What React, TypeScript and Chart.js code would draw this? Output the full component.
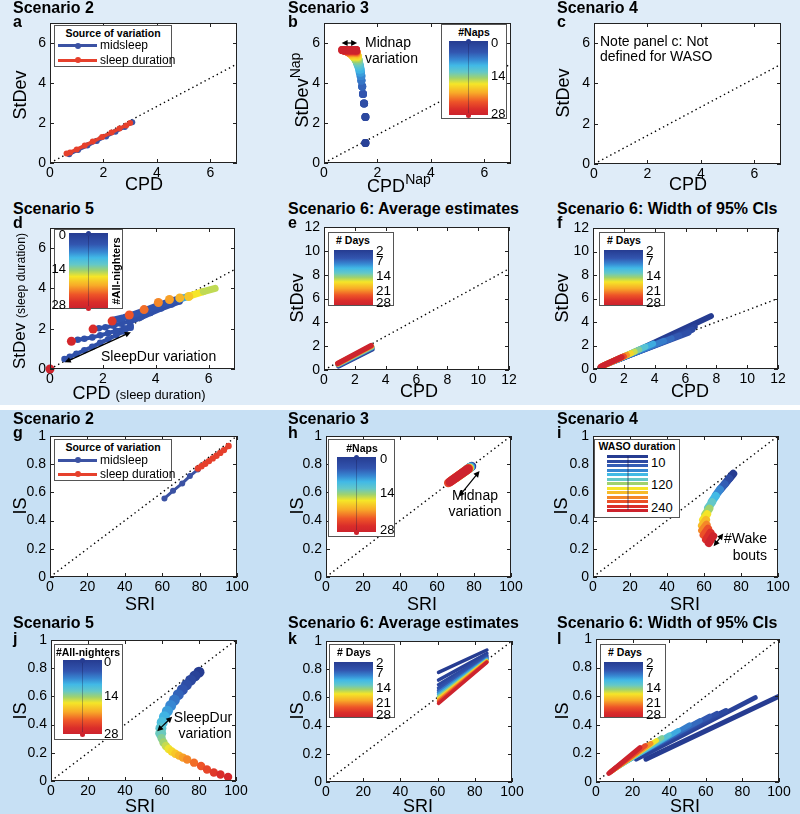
import React, { useEffect, useRef } from "react";
import { Chart, registerables } from "chart.js";

Chart.register(...registerables);

const FONT = '"Liberation Sans", Arial, Helvetica, sans-serif';
const TICK_SIZE = 14;
const BG_TOP = "#dfecf8";
const BG_BOTTOM = "#c7e0f4";
const BLUE = "#3b52a3";
const RED = "#e6402c";

type XY = [number, number];

// ---------------- tick labels ----------------
const TICKS_CPD7 = [0, 2, 4, 6];
const TICKS_CPD12 = [0, 2, 4, 6, 8, 10, 12];
const TICKS_SRI = [0, 20, 40, 60, 80, 100];
const TICKS_IS = [0, 0.2, 0.4, 0.6, 0.8, 1];

// ---------------- dotted reference lines ----------------
const DIAG_CPD7: XY[] = [[0, 0], [7, 4.95]];
const DIAG_CPD12: XY[] = [[0, 0], [12, 8.49]];
const DIAG_CI12: XY[] = [[0, 0], [12, 6]];
const DIAG_SRI: XY[] = [[0, 0], [100, 1]];

// ---------------- panel a: Scenario 2 (StDev vs CPD) ----------------
const A_MIDSLEEP: XY[] = [[0.72, 0.44], [1.05, 0.65], [1.4, 0.87], [1.75, 1.1], [2.1, 1.33], [2.45, 1.56], [2.8, 1.8], [3.08, 2.04]];
const A_SLEEPDUR: XY[] = [[0.62, 0.48], [0.75, 0.53], [1.0, 0.68], [1.3, 0.87], [1.6, 1.07], [1.95, 1.3], [2.3, 1.52], [2.6, 1.73], [2.85, 1.88], [3.0, 2.0]];

// ---------------- panel b: Scenario 3 (naps) ----------------
const B_NAPS = [1, 2, 3, 4, 5, 6, 7, 8, 9, 10, 11, 12, 13, 14, 15, 16, 17, 18, 19, 20, 21, 22, 23, 24, 25, 26, 27, 28];
const B_STDEV = [1.0, 2.3, 2.98, 3.45, 3.83, 4.12, 4.35, 4.53, 4.68, 4.82, 4.93, 5.03, 5.12, 5.2, 5.27, 5.33, 5.38, 5.43, 5.47, 5.5, 5.53, 5.56, 5.58, 5.6, 5.62, 5.63, 5.64, 5.65];
const B_CPD_MIN = [1.55, 1.55, 1.5, 1.46, 1.43, 1.4, 1.37, 1.34, 1.32, 1.29, 1.26, 1.23, 1.2, 1.17, 1.14, 1.1, 1.07, 1.03, 1.0, 0.96, 0.93, 0.89, 0.86, 0.82, 0.78, 0.75, 0.71, 0.68];
const B_CPD_MAX = [1.55, 1.55, 1.5, 1.46, 1.43, 1.4, 1.4, 1.38, 1.37, 1.35, 1.33, 1.31, 1.3, 1.28, 1.27, 1.26, 1.25, 1.24, 1.23, 1.22, 1.21, 1.21, 1.2, 1.2, 1.2, 1.2, 1.2, 1.2];

// ---------------- panel d: Scenario 5 (all-nighters, StDev vs CPD) ----------------
const D_BLUE_1: XY[] = [[0.55, 0.5], [0.75, 0.6], [1.0, 0.75], [1.3, 0.93], [1.6, 1.1], [1.9, 1.3], [2.2, 1.48], [2.5, 1.68], [2.8, 1.86], [3.05, 2.05]];
const D_BLUE_2: XY[] = [[1.05, 1.45], [1.3, 1.5], [1.6, 1.57], [1.9, 1.67], [2.2, 1.78], [2.5, 1.9], [2.8, 2.02], [3.05, 2.15]];
const D_BLUE_3: XY[] = [[1.85, 2.02], [2.1, 2.07], [2.4, 2.15], [2.7, 2.25], [3.0, 2.35]];
const D_RIDGE_LOW: XY[] = [[3.0, 2.35], [3.4, 2.55], [3.8, 2.78], [4.2, 3.0], [4.6, 3.2], [4.9, 3.35]];
const D_RIDGE: XY[] = [[2.4, 2.42], [2.8, 2.55], [3.2, 2.72], [3.6, 2.9], [4.0, 3.1], [4.4, 3.28], [4.8, 3.45], [5.0, 3.52]];
const D_RIDGE_CYAN: XY[] = [[4.9, 3.48], [5.3, 3.62]];
const D_RIDGE_YELLOW: XY[] = [[5.35, 3.66], [5.8, 3.84]];
const D_RIDGE_TIP: XY[] = [[5.8, 3.84], [6.25, 4.0]];
const D_NIGHTERS = [28, 27, 26, 25, 23, 22, 21, 20, 19, 18];
const D_NIGHTER_PTS: XY[] = [[0, 0], [0.81, 1.38], [1.63, 1.98], [2.35, 2.38], [3.0, 2.68], [3.56, 2.95], [4.1, 3.3], [4.52, 3.45], [4.91, 3.53], [5.25, 3.6]];

// ---------------- panel e: Scenario 6 averages (StDev vs CPD) ----------------
const E_DAYS = [2, 7, 14, 21, 28];
const E_CPD_START = [0.95, 0.93, 0.92, 0.9, 0.9];
const E_STDEV_START = [0.35, 0.42, 0.48, 0.52, 0.56];
const E_CPD_END = [3.1, 3.1, 3.1, 3.08, 3.05];
const E_STDEV_END = [1.75, 1.85, 1.93, 2.0, 2.05];

// ---------------- panel f: Scenario 6 CI widths (StDev vs CPD) ----------------
const F_DAYS = [2, 3, 4, 5, 6, 7, 8, 10, 12, 14, 16, 18, 21, 24, 28];
const F_CPD_START = [2.2, 1.9, 1.6, 1.4, 1.25, 1.15, 1.05, 0.95, 0.85, 0.8, 0.75, 0.7, 0.65, 0.6, 0.5];
const F_STDEV_START = [1.15, 0.95, 0.8, 0.7, 0.62, 0.56, 0.5, 0.45, 0.4, 0.36, 0.33, 0.3, 0.28, 0.25, 0.2];
const F_CPD_END = [7.65, 6.6, 6.45, 6.2, 5.6, 5.1, 4.6, 3.9, 3.4, 3.0, 2.7, 2.45, 2.2, 2.0, 1.85];
const F_STDEV_END = [4.5, 3.6, 3.35, 3.1, 2.85, 2.6, 2.4, 2.15, 1.9, 1.65, 1.47, 1.33, 1.2, 1.08, 1.0];

// ---------------- panel g: Scenario 2 (IS vs SRI) ----------------
const G_MIDSLEEP: XY[] = [[61.2, 0.557], [65.8, 0.611], [70.7, 0.664], [74.8, 0.716], [79.0, 0.762]];
const G_SLEEPDUR: XY[] = [[79.1, 0.77], [81, 0.785], [83, 0.803], [85, 0.822], [87, 0.841], [89, 0.86], [91, 0.88], [93, 0.9], [95.5, 0.929]];

// ---------------- panel h: Scenario 3 (IS vs SRI) ----------------
const H_NAPS = [0, 4, 8, 12, 16, 20, 24, 28];
const H_SRI_START = [77.5, 76.5, 75, 73, 70.5, 68, 66.2, 67];
const H_IS_START = [0.775, 0.765, 0.75, 0.73, 0.705, 0.685, 0.668, 0.675];
const H_SRI_END = [78.8, 78.5, 78.2, 77.8, 77.5, 77.2, 77, 76.8];
const H_IS_END = [0.785, 0.782, 0.78, 0.776, 0.772, 0.77, 0.768, 0.766];

// ---------------- panel i: Scenario 4 (WASO) ----------------
const I_WASO = [10, 20, 40, 60, 80, 100, 120, 140, 160, 180, 200, 220, 240];
const I_SRI_FEW = [73.8, 71.4, 68.9, 66.4, 64.2, 62.2, 60.7, 59.5, 58.9, 59.0, 59.8, 61.1, 62.6];
const I_IS_FEW = [0.7, 0.662, 0.622, 0.58, 0.535, 0.49, 0.445, 0.405, 0.365, 0.33, 0.298, 0.265, 0.24];
const I_SRI_MANY = [75.8, 73.6, 71.1, 68.6, 66.4, 64.4, 62.9, 61.7, 61.1, 61.4, 62.2, 63.5, 65.0];
const I_IS_MANY = [0.732, 0.698, 0.658, 0.62, 0.575, 0.53, 0.485, 0.445, 0.405, 0.37, 0.342, 0.315, 0.29];

// ---------------- panel j: Scenario 5 (IS vs SRI) ----------------
const J_ALLNIGHTERS = [0, 1, 2, 3, 4, 5, 6, 7, 8, 9, 10, 11, 12, 13, 14, 15, 16, 17, 18, 19, 20, 21, 22, 23, 24, 25, 26, 27];
const J_SRI = [80, 77.8, 75.5, 73.2, 71, 68.8, 66.7, 64.7, 62.9, 61.3, 60.1, 59.4, 59.3, 59.8, 60.8, 62.1, 63.6, 65.3, 67.2, 69.2, 71.3, 73.6, 77.3, 81.1, 84.3, 88, 91.6, 95.7];
const J_IS = [0.772, 0.745, 0.715, 0.682, 0.648, 0.612, 0.574, 0.535, 0.495, 0.455, 0.415, 0.375, 0.338, 0.303, 0.273, 0.248, 0.227, 0.209, 0.193, 0.18, 0.166, 0.152, 0.13, 0.106, 0.082, 0.06, 0.046, 0.028];

// ---------------- panel k: Scenario 6 averages (IS vs SRI) ----------------
const K_DAYS = [2, 3, 4, 5, 6, 8, 10, 14, 18, 21, 24, 28];
const K_SRI_START = 60.5;
const K_SRI_END = 86.5;
const K_IS_START = [0.777, 0.723, 0.69, 0.667, 0.65, 0.635, 0.622, 0.607, 0.593, 0.58, 0.568, 0.557];
const K_IS_END = [0.936, 0.912, 0.898, 0.888, 0.881, 0.875, 0.87, 0.865, 0.86, 0.856, 0.852, 0.848];

// ---------------- panel l: Scenario 6 CI widths (IS vs SRI) ----------------
const L_DAYS = [2, 3, 4, 5, 6, 7, 8, 10, 12, 14, 17, 21, 24, 28];
const L_SRI_START = [27.3, 22, 20, 17, 15, 14, 13, 11, 10, 9.5, 9, 8.5, 8, 7];
const L_IS_START = [0.16, 0.16, 0.17, 0.15, 0.14, 0.13, 0.12, 0.1, 0.09, 0.085, 0.08, 0.075, 0.07, 0.06];
const L_SRI_END = [100, 87, 71, 66, 62, 57, 51, 45, 40, 36, 33, 30, 27, 24];
const L_IS_END = [0.6, 0.59, 0.5, 0.48, 0.46, 0.43, 0.4, 0.36, 0.33, 0.31, 0.29, 0.27, 0.255, 0.24];

// ---------------- colour map (jet-like) ----------------
const CMAP_STOPS: [number, number, number, number][] = [
  [0.0, 38, 60, 145], [0.15, 50, 85, 175], [0.25, 55, 135, 210], [0.33, 65, 185, 230],
  [0.42, 100, 200, 200], [0.5, 160, 210, 110], [0.58, 245, 230, 40], [0.7, 248, 170, 40],
  [0.82, 238, 85, 40], [0.92, 218, 45, 42], [1.0, 205, 35, 45],
];
function cmap(t: number): string {
  const u = Math.max(0, Math.min(1, t));
  for (let i = 1; i < CMAP_STOPS.length; i++) {
    const a = CMAP_STOPS[i - 1];
    const b = CMAP_STOPS[i];
    if (u <= b[0]) {
      const f = (u - a[0]) / (b[0] - a[0]);
      const c = [1, 2, 3].map((k) => Math.round(a[k] + (b[k] - a[k]) * f));
      return `rgb(${c[0]},${c[1]},${c[2]})`;
    }
  }
  return "rgb(205,35,45)";
}
const CMAP_CSS = `linear-gradient(to bottom, ${CMAP_STOPS.map((s) => `rgb(${s[1]},${s[2]},${s[3]}) ${s[0] * 100}%`).join(", ")})`;

// ---------------- dataset helpers ----------------
const pts = (a: XY[]) => a.map(([x, y]) => ({ x, y }));
function line(data: XY[], color: string, width: number, pointRadius = 0, extra: any = {}) {
  return {
    data: pts(data), showLine: true, borderColor: color, backgroundColor: color, borderWidth: width,
    pointRadius, pointHoverRadius: 0, pointBorderWidth: 0, pointBackgroundColor: color,
    borderCapStyle: "round", borderJoinStyle: "round", ...extra,
  };
}
function dotted(data: XY[]) {
  return { data: pts(data), showLine: true, borderColor: "#000", borderWidth: 1.4, borderDash: [1.4, 3.2], pointRadius: 0, pointHoverRadius: 0 };
}
function dots(data: XY[], colors: string[], radius: any, extra: any = {}) {
  return { data: pts(data), showLine: false, pointRadius: radius, pointHoverRadius: 0, pointBackgroundColor: colors, pointBorderWidth: 0, ...extra };
}

const dayT = (d: number) => (d - 2) / 26;

const PANELS: any[] = [
  { key: "a", x: 50, y: 23, w: 187, h: 140, xMax: 7, yMax: 7, xTicks: TICKS_CPD7, yTicks: TICKS_CPD7, arrows: [],
    datasets: [dotted(DIAG_CPD7), line(A_MIDSLEEP, BLUE, 3.5, 3), line(A_SLEEPDUR, RED, 3.5, 3)] },
  { key: "b", x: 324, y: 23, w: 187, h: 140, xMax: 7, yMax: 7, xTicks: TICKS_CPD7, yTicks: TICKS_CPD7,
    arrows: [[0.66, 6.0, 1.24, 6.0]],
    datasets: [dotted(DIAG_CPD7), ...B_NAPS.map((n, i) => line([[B_CPD_MIN[i], B_STDEV[i]], [B_CPD_MAX[i], B_STDEV[i]]], cmap(n / 28), 8, 4))] },
  { key: "c", x: 594, y: 23, w: 187, h: 141, xMax: 7, yMax: 7, xTicks: TICKS_CPD7, yTicks: TICKS_CPD7, arrows: [],
    datasets: [dotted(DIAG_CPD7)] },
  { key: "d", x: 50, y: 228, w: 185, h: 141, xMax: 7, yMax: 7, xTicks: TICKS_CPD7, yTicks: TICKS_CPD7,
    arrows: [[0.56, 0.33, 3.06, 1.83]],
    datasets: [
      dotted(DIAG_CPD7),
      line(D_BLUE_1, cmap(0.12), 4, 3.3), line(D_BLUE_2, cmap(0.12), 4, 3.3), line(D_BLUE_3, cmap(0.12), 4, 3.3),
      line(D_RIDGE_LOW, cmap(0.12), 6, 3.3), line(D_RIDGE, cmap(0.14), 7),
      line(D_RIDGE_CYAN, cmap(0.3), 7), line(D_RIDGE_YELLOW, cmap(0.58), 7), line(D_RIDGE_TIP, cmap(0.53), 7),
      dots(D_NIGHTER_PTS, D_NIGHTERS.map((n) => cmap(n / 28)), 4.5, { clip: false }),
    ] },
  { key: "e", x: 324, y: 227, w: 185, h: 143, xMax: 12, yMax: 12, xTicks: TICKS_CPD12, yTicks: TICKS_CPD12, arrows: [],
    datasets: [dotted(DIAG_CPD12), ...E_DAYS.map((d, i) => line([[E_CPD_START[i], E_STDEV_START[i]], [E_CPD_END[i], E_STDEV_END[i]]], cmap(dayT(d)), 5.5))] },
  { key: "f", x: 593, y: 228, w: 185, h: 141, xMax: 12, yMax: 12, xTicks: TICKS_CPD12, yTicks: TICKS_CPD12, arrows: [],
    datasets: [dotted(DIAG_CI12), ...F_DAYS.map((d, i) => line([[F_CPD_START[i], F_STDEV_START[i]], [F_CPD_END[i], F_STDEV_END[i]]], cmap(dayT(d)), 6))] },
  { key: "g", x: 50, y: 436, w: 187, h: 141, xMax: 100, yMax: 1, xTicks: TICKS_SRI, yTicks: TICKS_IS, arrows: [],
    datasets: [dotted(DIAG_SRI), line(G_MIDSLEEP, BLUE, 3, 3), line(G_SLEEPDUR, RED, 4, 3.2)] },
  { key: "h", x: 326, y: 436, w: 185, h: 141, xMax: 100, yMax: 1, xTicks: TICKS_SRI, yTicks: TICKS_IS,
    arrows: [[71.7, 0.569, 83, 0.751]],
    datasets: [dotted(DIAG_SRI), ...H_NAPS.map((n, i) => line([[H_SRI_START[i], H_IS_START[i]], [H_SRI_END[i], H_IS_END[i]]], cmap(n / 28), 9))] },
  { key: "i", x: 593, y: 436, w: 185, h: 141, xMax: 100, yMax: 1, xTicks: TICKS_SRI, yTicks: TICKS_IS,
    arrows: [[65.2, 0.218, 70.4, 0.308]],
    datasets: [dotted(DIAG_SRI), ...I_WASO.map((w, i) => line([[I_SRI_FEW[i], I_IS_FEW[i]], [I_SRI_MANY[i], I_IS_MANY[i]]], cmap(i / (I_WASO.length - 1)), 8))] },
  { key: "j", x: 51, y: 640, w: 185, h: 141, xMax: 100, yMax: 1, xTicks: TICKS_SRI, yTicks: TICKS_IS,
    arrows: [[57.4, 0.353, 65.5, 0.456]],
    datasets: [dotted(DIAG_SRI), dots(J_SRI.map((s, i) => [s, J_IS[i]] as XY), J_ALLNIGHTERS.map((n) => cmap(n / 28)), J_ALLNIGHTERS.map((n) => (n <= 12 ? 5.5 : 4.2)))] },
  { key: "k", x: 326, y: 641, w: 186, h: 141, xMax: 100, yMax: 1, xTicks: TICKS_SRI, yTicks: TICKS_IS, arrows: [],
    datasets: [dotted(DIAG_SRI), ...K_DAYS.map((d, i) => line([[K_SRI_START, K_IS_START[i]], [K_SRI_END, K_IS_END[i]]], cmap(dayT(d)), 3.5))] },
  { key: "l", x: 596, y: 639, w: 183, h: 143, xMax: 100, yMax: 1, xTicks: TICKS_SRI, yTicks: TICKS_IS, arrows: [],
    datasets: [dotted(DIAG_SRI), ...L_DAYS.map((d, i) => line([[L_SRI_START[i], L_IS_START[i]], [L_SRI_END[i], L_IS_END[i]]], cmap(dayT(d)), 5))] },
];

// ---------------- chart construction ----------------
const PADL = 42, PADR = 16, PADT = 10, PADB = 20;

function drawArrow(ctx: CanvasRenderingContext2D, x1: number, y1: number, x2: number, y2: number) {
  const ang = Math.atan2(y2 - y1, x2 - x1);
  const hl = 6, hw = 3;
  const c = Math.cos(ang), s = Math.sin(ang);
  ctx.beginPath();
  ctx.moveTo(x1 + c * hl * 0.8, y1 + s * hl * 0.8);
  ctx.lineTo(x2 - c * hl * 0.8, y2 - s * hl * 0.8);
  ctx.lineWidth = 1.2;
  ctx.strokeStyle = "#000";
  ctx.stroke();
  const head = (px: number, py: number, dx: number, dy: number) => {
    ctx.beginPath();
    ctx.moveTo(px, py);
    ctx.lineTo(px - dx * hl - dy * hw, py - dy * hl + dx * hw);
    ctx.lineTo(px - dx * hl + dy * hw, py - dy * hl - dx * hw);
    ctx.closePath();
    ctx.fillStyle = "#000";
    ctx.fill();
  };
  head(x2, y2, c, s);
  head(x1, y1, -c, -s);
}

function makeConfig(p: any): any {
  const framePlugin = {
    id: "frame_" + p.key,
    beforeDatasetsDraw(chart: any) {
      const { ctx, chartArea: ca } = chart;
      ctx.save();
      ctx.fillStyle = "#fff";
      ctx.fillRect(ca.left, ca.top, ca.right - ca.left, ca.bottom - ca.top);
      ctx.restore();
    },
    afterDatasetsDraw(chart: any) {
      const { ctx, chartArea: ca, scales } = chart;
      const xs = scales.x, ys = scales.y;
      ctx.save();
      ctx.strokeStyle = "#222";
      ctx.lineWidth = 1;
      ctx.strokeRect(ca.left + 0.5, ca.top + 0.5, ca.right - ca.left - 1, ca.bottom - ca.top - 1);
      ctx.beginPath();
      for (const v of p.xTicks) {
        const px = Math.round(xs.getPixelForValue(v)) + 0.5;
        ctx.moveTo(px, ca.bottom); ctx.lineTo(px, ca.bottom - 4);
        ctx.moveTo(px, ca.top); ctx.lineTo(px, ca.top + 4);
      }
      for (const v of p.yTicks) {
        const py = Math.round(ys.getPixelForValue(v)) + 0.5;
        ctx.moveTo(ca.left, py); ctx.lineTo(ca.left + 4, py);
        ctx.moveTo(ca.right, py); ctx.lineTo(ca.right - 4, py);
      }
      ctx.stroke();
      for (const a of p.arrows) {
        drawArrow(ctx, xs.getPixelForValue(a[0]), ys.getPixelForValue(a[1]), xs.getPixelForValue(a[2]), ys.getPixelForValue(a[3]));
      }
      ctx.restore();
    },
  };
  const tickFont = { family: FONT, size: TICK_SIZE };
  return {
    type: "scatter",
    data: { datasets: p.datasets.map((d: any, i: number) => ({ ...d, order: -i })) },
    options: {
      animation: false,
      responsive: false,
      devicePixelRatio: 1,
      events: [],
      layout: { padding: { left: 0, right: PADR, top: PADT, bottom: 0 } },
      plugins: { legend: { display: false }, tooltip: { enabled: false }, title: { display: false } },
      elements: { line: { tension: 0 } },
      scales: {
        x: {
          type: "linear", position: "bottom", min: 0, max: p.xMax,
          grid: { display: false, drawTicks: false }, border: { display: false },
          ticks: { color: "#000", font: tickFont, padding: 2, maxRotation: 0, autoSkip: false, callback: (v: any) => String(v) },
          afterBuildTicks: (s: any) => { s.ticks = p.xTicks.map((v: number) => ({ value: v })); },
          afterFit: (s: any) => { s.height = PADB; s.paddingLeft = 0; s.paddingRight = 0; },
        },
        y: {
          type: "linear", position: "left", min: 0, max: p.yMax,
          grid: { display: false, drawTicks: false }, border: { display: false },
          ticks: { color: "#000", font: tickFont, padding: 4, autoSkip: false, callback: (v: any) => String(v) },
          afterBuildTicks: (s: any) => { s.ticks = p.yTicks.map((v: number) => ({ value: v })); },
          afterFit: (s: any) => { s.width = PADL; s.paddingTop = 0; s.paddingBottom = 0; },
        },
      },
    },
    plugins: [framePlugin],
  };
}

function ChartPanel({ spec }: { spec: any }) {
  const ref = useRef<HTMLCanvasElement>(null);
  useEffect(() => {
    const chart = new Chart(ref.current as HTMLCanvasElement, makeConfig(spec));
    return () => chart.destroy();
  }, [spec]);
  const W = spec.w + PADL + PADR;
  const H = spec.h + PADT + PADB;
  return (
    <canvas ref={ref} width={W} height={H}
      style={{ position: "absolute", left: spec.x - PADL, top: spec.y - PADT, width: W, height: H }} />
  );
}

// ---------------- text helpers ----------------
function Txt({ x, b, size = 14, bold = false, align = "left", children }: any) {
  const tx = align === "center" ? "translateX(-50%)" : align === "right" ? "translateX(-100%)" : undefined;
  return (
    <div style={{ position: "absolute", left: x, top: b - size * 0.847, fontSize: size, lineHeight: `${size}px`,
      fontWeight: bold ? "bold" : "normal", whiteSpace: "nowrap", transform: tx }}>{children}</div>
  );
}
function CTxt({ x, y, size = 18, rotate = false, bold = false, children }: any) {
  return (
    <div style={{ position: "absolute", left: x, top: y, fontSize: size, lineHeight: `${size}px`, whiteSpace: "nowrap",
      fontWeight: bold ? "bold" : "normal",
      transform: `translate(-50%, -50%)${rotate ? " rotate(-90deg)" : ""}` }}>{children}</div>
  );
}
const Sup = ({ children }: any) => (
  <span style={{ fontSize: "0.78em", position: "relative", top: "-0.55em" }}>{children}</span>
);
const Small = ({ children }: any) => <span style={{ fontSize: "0.72em" }}>{children}</span>;

function LegendBox({ x, y, w, h, children }: any) {
  return (
    <div style={{ position: "absolute", left: x, top: y, width: w, height: h, background: "#fff",
      border: "1px solid #555", boxSizing: "border-box" }}>{children}</div>
  );
}
function Bar({ x, y, w, h, marker = true }: any) {
  return (
    <>
      <div style={{ position: "absolute", left: x, top: y, width: w, height: h, background: CMAP_CSS }} />
      {marker && (
        <>
          <div style={{ position: "absolute", left: x + w / 2 - 0.75, top: y, width: 1.5, height: h, background: "rgba(20,20,70,0.3)" }} />
          <div style={{ position: "absolute", left: x + w / 2 - 2.5, top: y - 2.5, width: 5, height: 5, borderRadius: 3, background: cmap(0) }} />
          <div style={{ position: "absolute", left: x + w / 2 - 2.5, top: y + h - 2.5, width: 5, height: 5, borderRadius: 3, background: cmap(1) }} />
        </>
      )}
    </>
  );
}
function LineSample({ x1, x2, y, color }: any) {
  return (
    <>
      <div style={{ position: "absolute", left: x1, top: y - 1.5, width: x2 - x1, height: 3, background: color }} />
      <div style={{ position: "absolute", left: (x1 + x2) / 2 - 3, top: y - 3, width: 6, height: 6, borderRadius: 3, background: color }} />
    </>
  );
}

const TITLES: [string, number, number][] = [
  ["Scenario 2", 13, 14], ["Scenario 3", 288, 14], ["Scenario 4", 557, 14],
  ["Scenario 5", 13, 215], ["Scenario 6: Average estimates", 288, 215], ["Scenario 6: Width of 95% CIs", 557, 215],
  ["Scenario 2", 13, 425], ["Scenario 3", 288, 425], ["Scenario 4", 557, 425],
  ["Scenario 5", 13, 629], ["Scenario 6: Average estimates", 288, 629], ["Scenario 6: Width of 95% CIs", 557, 629],
];
const LETTERS: [string, number, number][] = [
  ["a", 13, 28], ["b", 288, 28], ["c", 557, 28],
  ["d", 13, 229], ["e", 288, 229], ["f", 557, 229],
  ["g", 13, 439], ["h", 288, 439], ["i", 557, 439],
  ["j", 13, 645], ["k", 288, 645], ["l", 557, 645],
];

function DaysLegend({ x, y, barX }: any) {
  const base = [y + 23, y + 33, y + 48, y + 63, y + 75];
  const labels = ["2", "7", "14", "21", "28"];
  return (
    <>
      <LegendBox x={x} y={y} w={66} h={74} />
      <Txt x={x + 25} b={y + 12} size={10.5} bold align="center"># Days</Txt>
      <Bar x={barX} y={y + 18} w={39} h={55} marker={false} />
      {labels.map((l, i) => <Txt key={l} x={barX + 42} b={base[i]} size={13.5}>{l}</Txt>)}
    </>
  );
}

export default function App() {
  return (
    <div style={{ position: "absolute", left: 0, top: 0, width: 800, height: 814, overflow: "hidden", fontFamily: FONT, color: "#000" }}>
      <div style={{ position: "absolute", left: 0, top: 0, width: 800, height: 405, background: BG_TOP }} />
      <div style={{ position: "absolute", left: 0, top: 405, width: 800, height: 5, background: "#fff" }} />
      <div style={{ position: "absolute", left: 0, top: 410, width: 800, height: 404, background: BG_BOTTOM }} />

      {PANELS.map((p) => <ChartPanel key={p.key} spec={p} />)}

      {TITLES.map(([t, x, b], i) => <Txt key={"t" + i} x={x} b={b} size={16} bold>{t}</Txt>)}
      {LETTERS.map(([t, x, b]) => <Txt key={"l" + t} x={x} b={b} size={16} bold>{t}</Txt>)}

      {/* axis titles */}
      <CTxt x={144} y={184}>CPD</CTxt>
      <CTxt x={399} y={186}>CPD<Sup>Nap</Sup></CTxt>
      <CTxt x={688} y={184}>CPD</CTxt>
      <CTxt x={139} y={394}>CPD <Small>(sleep duration)</Small></CTxt>
      <CTxt x={419} y={391}>CPD</CTxt>
      <CTxt x={690} y={391}>CPD</CTxt>
      <CTxt x={140} y={604}>SRI</CTxt>
      <CTxt x={422} y={604}>SRI</CTxt>
      <CTxt x={685} y={604}>SRI</CTxt>
      <CTxt x={140} y={806}>SRI</CTxt>
      <CTxt x={418} y={806}>SRI</CTxt>
      <CTxt x={685} y={806}>SRI</CTxt>

      <CTxt x={20} y={95} rotate>StDev</CTxt>
      <CTxt x={302} y={90} rotate>StDev<Sup>Nap</Sup></CTxt>
      <CTxt x={563} y={93} rotate>StDev</CTxt>
      <CTxt x={20} y={301} size={17} rotate>StDev <Small>(sleep duration)</Small></CTxt>
      <CTxt x={297} y={298} rotate>StDev</CTxt>
      <CTxt x={562} y={298} rotate>StDev</CTxt>
      <CTxt x={20} y={506} rotate>IS</CTxt>
      <CTxt x={297} y={506} rotate>IS</CTxt>
      <CTxt x={561} y={506} rotate>IS</CTxt>
      <CTxt x={20} y={711} rotate>IS</CTxt>
      <CTxt x={297} y={711} rotate>IS</CTxt>
      <CTxt x={562} y={711} rotate>IS</CTxt>

      {/* annotations */}
      <Txt x={365} b={47} size={14}>Midnap</Txt>
      <Txt x={365} b={63} size={14}>variation</Txt>
      <Txt x={600} b={46} size={14}>Note panel c: Not</Txt>
      <Txt x={600} b={61} size={14}>defined for WASO</Txt>
      <Txt x={101} b={361} size={14}>SleepDur variation</Txt>
      <Txt x={475} b={500} size={14} align="center">Midnap</Txt>
      <Txt x={475} b={516} size={14} align="center">variation</Txt>
      <Txt x={767} b={543} size={14} align="right">#Wake</Txt>
      <Txt x={767} b={560} size={14} align="right">bouts</Txt>
      <Txt x={203} b={722} size={14} align="center">SleepDur</Txt>
      <Txt x={205} b={738} size={14} align="center">variation</Txt>

      {/* legend a */}
      <LegendBox x={54} y={25} w={118} h={42} />
      <Txt x={113} b={37} size={10.5} bold align="center">Source of variation</Txt>
      <LineSample x1={58} x2={97} y={45.5} color={BLUE} />
      <Txt x={100} b={49} size={12}>midsleep</Txt>
      <LineSample x1={58} x2={97} y={60} color={RED} />
      <Txt x={100} b={64} size={12}>sleep duration</Txt>

      {/* legend g */}
      <LegendBox x={54} y={439} w={118} h={42} />
      <Txt x={113} b={451} size={10.5} bold align="center">Source of variation</Txt>
      <LineSample x1={58} x2={97} y={460} color={BLUE} />
      <Txt x={100} b={464} size={12}>midsleep</Txt>
      <LineSample x1={58} x2={97} y={474} color={RED} />
      <Txt x={100} b={478} size={12}>sleep duration</Txt>

      {/* legend b */}
      <LegendBox x={441} y={24} w={66} h={95} />
      <Txt x={474} b={36} size={10.5} bold align="center">#Naps</Txt>
      <Bar x={449} y={41} w={39} h={74} />
      <Txt x={491} b={47} size={13}>0</Txt>
      <Txt x={491} b={80} size={13}>14</Txt>
      <Txt x={491} b={118} size={13}>28</Txt>

      {/* legend d */}
      <LegendBox x={54} y={229} w={69} h={80} />
      <Bar x={69} y={233} w={39} h={75} />
      <Txt x={66} b={239} size={13} align="right">0</Txt>
      <Txt x={66} b={273} size={13} align="right">14</Txt>
      <Txt x={66} b={309} size={13} align="right">28</Txt>
      <CTxt x={116} y={271} size={11} rotate bold>#All-nighters</CTxt>

      {/* legends e, f */}
      <DaysLegend x={328} y={232} barX={334} />
      <DaysLegend x={599} y={232} barX={604} />

      {/* legend h */}
      <LegendBox x={328} y={439} w={67} h={98} />
      <Txt x={362} b={452} size={10.5} bold align="center">#Naps</Txt>
      <Bar x={337} y={457} w={39} h={75} />
      <Txt x={380} b={463} size={13}>0</Txt>
      <Txt x={380} b={497} size={13}>14</Txt>
      <Txt x={380} b={534} size={13}>28</Txt>

      {/* legend i */}
      <LegendBox x={594} y={439} w={86} h={79} />
      <Txt x={637} b={450} size={10.5} bold align="center">WASO duration</Txt>
      {I_WASO.map((w, i) => (
        <div key={"ws" + w} style={{ position: "absolute", left: 607, top: 455 + i * 4.5, width: 41, height: 3.2, background: cmap(i / (I_WASO.length - 1)) }} />
      ))}
      <div style={{ position: "absolute", left: 627, top: 456, width: 1.5, height: 54, background: "rgba(20,20,70,0.3)" }} />
      <Txt x={651} b={467} size={13}>10</Txt>
      <Txt x={651} b={489} size={13}>120</Txt>
      <Txt x={651} b={512} size={13}>240</Txt>

      {/* legend j */}
      <LegendBox x={54} y={644} w={69} h={96} />
      <Txt x={88} b={656} size={10.5} bold align="center">#All-nighters</Txt>
      <Bar x={63} y={660} w={39} h={74} />
      <Txt x={104} b={666} size={13}>0</Txt>
      <Txt x={104} b={700} size={13}>14</Txt>
      <Txt x={104} b={738} size={13}>28</Txt>

      {/* legends k, l */}
      <DaysLegend x={329} y={644} barX={334} />
      <DaysLegend x={600} y={644} barX={604} />
    </div>
  );
}
